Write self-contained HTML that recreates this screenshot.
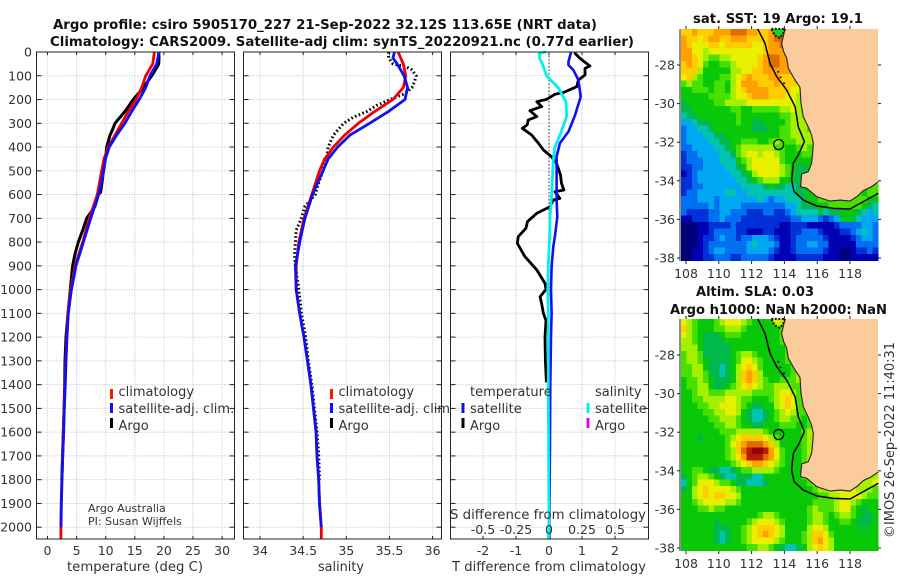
<!DOCTYPE html>
<html lang="en">
<head>
<meta charset="utf-8">
<title>Argo profile csiro 5905170_227</title>
<style>
html,body{margin:0;padding:0;background:#fff;width:900px;height:580px;overflow:hidden}
svg{display:block}
text{font-family:"DejaVu Sans","Liberation Sans",sans-serif;fill:#333}
.title{font-weight:bold;fill:#111}
</style>
</head>
<body>
<svg id="fig" xmlns="http://www.w3.org/2000/svg" width="900" height="580" viewBox="0 0 900 580">
<rect x="0" y="0" width="900" height="580" fill="#fff"/>
<text class="title" x="53" y="29" font-size="13.5" textLength="544" lengthAdjust="spacingAndGlyphs">Argo profile: csiro 5905170_227 21-Sep-2022 32.12S 113.65E (NRT data)</text>
<text class="title" x="50" y="46" font-size="13.5" textLength="584" lengthAdjust="spacingAndGlyphs">Climatology: CARS2009. Satellite-adj clim: synTS_20220921.nc (0.77d earlier)</text>
<text class="title" x="693" y="23" font-size="13.5" textLength="170" lengthAdjust="spacingAndGlyphs">sat. SST: 19 Argo: 19.1</text>
<text class="title" x="696" y="296" font-size="13.5" textLength="118" lengthAdjust="spacingAndGlyphs">Altim. SLA: 0.03</text>
<text class="title" x="670" y="314" font-size="13.5" textLength="217" lengthAdjust="spacingAndGlyphs">Argo h1000: NaN h2000: NaN</text>
<g id="temp-panel"></g>
<g id="sal-panel"></g>
<g id="diff-panel"></g>
<g id="sst-map"></g>
<g id="sla-map"></g>
<text x="135" y="571" font-size="13" text-anchor="middle" textLength="136" lengthAdjust="spacingAndGlyphs">temperature (deg C)</text>
<text x="341" y="571" font-size="13" text-anchor="middle" textLength="46" lengthAdjust="spacingAndGlyphs">salinity</text>
<text x="549" y="571" font-size="13" text-anchor="middle" textLength="194" lengthAdjust="spacingAndGlyphs">T difference from climatology</text>
<text x="548" y="519" font-size="13" text-anchor="middle" textLength="196" lengthAdjust="spacingAndGlyphs">S difference from climatology</text>
<text x="88" y="512" font-size="11">Argo Australia</text>
<text x="88" y="525" font-size="11">PI: Susan Wijffels</text>
<text transform="translate(894,538) rotate(-90)" font-size="13" textLength="196" lengthAdjust="spacingAndGlyphs">©IMOS 26-Sep-2022 11:40:31</text>
</svg>
<script>
/* ---------- profile data ---------- */
const tempDepths=[0,50,100,150,200,250,300,350,400,450,500,600,700,800,900,1000,1100,1200,1300,1400,1500,1600,1700,1800,1900,2000,2050];
const tempClim=[18.36,18.07,16.87,16.18,15.2,13.89,12.74,11.6,10.45,9.71,9.31,8.56,7.19,6.04,4.73,3.98,3.5,3.3,3.13,3.0,2.85,2.72,2.58,2.45,2.35,2.3,2.3];
const satDepths=[0,50,100,150,200,250,300,350,400,450,500,600,700,800,900,1000,1100,1200,1300,1400,1500,1600,1700,1800,1900,2000];
const tempSat=[19.16,18.76,17.6,16.87,15.78,14.46,13.3,11.88,10.62,9.94,9.65,8.79,7.42,6.16,4.9,4.1,3.58,3.35,3.18,3.06,2.89,2.78,2.61,2.49,2.38,2.32];
const argoTempDepths=[0,25,50,60,100,150,200,250,300,325,350,400,450,500,550,590,600,650,700,750,800,850,900,1000,1100,1200,1300,1400,1500,1600,1700,1800];
const tempArgo=[19.1,19.15,19.1,18.9,17.9,16.47,14.75,13.32,11.6,11.2,10.74,10.17,9.94,9.6,9.36,9.13,8.73,8.16,6.73,6.04,5.3,4.73,4.32,3.92,3.52,3.18,3.0,2.95,2.85,2.72,2.6,2.45];

const salClimDepths=[0,50,100,150,200,250,300,350,400,450,500,600,700,800,900,1000,1100,1200,1300,1400,1500,1600,1700,1800,1900,2000,2050];
const salClim=[35.6,35.66,35.69,35.66,35.54,35.33,35.14,34.98,34.85,34.75,34.69,34.6,34.51,34.45,34.42,34.42,34.46,34.51,34.55,34.59,34.62,34.65,34.66,34.68,34.69,34.71,34.71];
const salSatDepths=[0,25,50,100,150,200,250,300,350,400,450,500,600,700,800,900,1000,1100,1200,1300,1400,1500,1600,1700,1800,1900,2000];
const salSat=[35.56,35.54,35.59,35.67,35.71,35.68,35.49,35.27,35.04,34.9,34.79,34.73,34.61,34.52,34.46,34.41,34.42,34.46,34.51,34.55,34.59,34.62,34.65,34.66,34.68,34.69,34.71];
const salArgoDepths=[0,25,50,60,75,100,125,150,175,200,225,250,275,300,325,350,400,450,500,550,600,650,700,750,800,850,900,950,1000,1100,1200,1300,1400,1500,1600,1700,1800];
const salArgo=[35.49,35.49,35.54,35.68,35.76,35.81,35.79,35.76,35.68,35.51,35.35,35.24,35.08,34.97,34.91,34.85,34.79,34.77,34.73,34.68,34.64,34.52,34.48,34.42,34.41,34.4,34.41,34.43,34.45,34.48,34.53,34.56,34.6,34.63,34.66,34.68,34.69];

const diffTArgoDepths=[3,27,59,69,97,118,146,171,178,199,209,230,247,272,286,307,321,349,384,412,441,469,518,553,581,588,616,623,651,679,714,742,777,805,861,917,974,999,1030,1060,1100,1130,1200,1300,1390];
const diffTArgo=[0.77,0.94,1.24,1.09,1.09,0.89,0.84,0.43,0.18,-0.07,-0.37,-0.22,-0.58,-0.37,-0.63,-0.66,-0.81,-0.53,-0.32,-0.17,0.08,0.23,0.35,0.38,0.45,0.18,0.33,0.13,0.03,-0.37,-0.65,-0.7,-0.93,-0.96,-0.73,-0.37,-0.12,-0.09,-0.27,-0.22,-0.17,-0.09,-0.12,-0.11,-0.08];
const diffTSatDepths=[0,40,55,76,118,188,265,335,384,440,623,693,777,819,903,999,1100,1200,1400,1600,1800,2000,2050];
const diffTSat=[0.67,0.59,0.59,0.74,0.89,0.96,0.79,0.59,0.33,0.23,0.23,0.25,0.18,0.13,0.08,0.06,0.08,0.06,0.04,0.03,0.02,0.01,0.01];
const diffSSatDepths=[0,5,25,50,100,150,210,270,350,400,450,600,690,800,900,1000,1100,1400,1700,2000,2050];
const diffSSat=[-0.02,-0.073,-0.073,-0.05,-0.018,0.07,0.129,0.134,0.083,0.045,0.033,0.02,0.008,0.003,-0.005,-0.01,-0.005,-0.005,-0.003,0,-0.005];

/* ---------- axis tick labels ---------- */
const depthTicks=[0,100,200,300,400,500,600,700,800,900,1000,1100,1200,1300,1400,1500,1600,1700,1800,1900,2000];
const tempTicks=[0,5,10,15,20,25,30];
const salTicks=[34,34.5,35,35.5,36];
const diffTTicks=[-2,-1,0,1,2];
const diffSTicks=[-0.5,-0.25,0,0.25,0.5];
const lonTicks=[108,110,112,114,116,118];
const latTicks=[-28,-30,-32,-34,-36,-38];

/* ---------- map data: colour levels, north to south, west to east ---------- */
const sstRows=[
[11,11,12,11,11,11,12,12,12,13,13,13,12,12,11,11,12,13,13,13,7],
[12,11,11,10,11,12,12,11,11,12,12,12,11,11,11,11,12,13,13,12,7],
[12,11,10,10,10,11,11,10,11,11,11,11,11,10,10,11,12,12,13,12,12],
[12,12,10,10,9,10,10,10,10,10,10,10,10,10,10,11,12,12,12,12,11],
[12,12,11,10,9,8,8,9,9,10,10,10,10,10,11,12,13,13,12,12,11],
[11,12,11,10,8,7,7,8,8,9,10,10,10,10,11,12,13,13,12,12,11],
[11,11,11,9,7,7,7,7,7,9,9,10,10,11,11,12,12,12,12,12,11],
[10,11,9,8,7,7,7,8,8,9,10,11,12,11,11,11,12,12,11,11,11,10],
[8,9,8,8,7,7,8,8,7,9,10,12,12,12,11,11,11,12,11,11,11,10,9],
[7,7,8,8,8,7,8,8,7,9,10,11,12,12,12,12,11,11,11,11,10,10,8],
[7,7,7,7,7,8,8,8,8,9,10,10,11,12,12,12,11,11,11,10,10,9,8],
[6,7,7,7,7,7,8,8,9,9,9,9,10,10,10,10,10,10,10,10,10,9,8,8],
[6,6,7,7,7,7,7,7,7,8,8,7,7,8,8,8,8,8,9,9,10,9,9,8],
[5,6,6,7,7,7,7,7,7,7,8,7,7,7,7,7,7,7,8,8,9,9,9,9],
[4,4,5,6,6,7,7,7,7,7,8,7,7,6,6,7,7,7,7,8,9,9,9,9,8],
[3,4,4,5,5,6,7,7,7,7,7,7,7,6,6,6,7,7,8,8,9,9,9,8,8],
[3,4,4,4,5,5,6,6,7,7,7,7,7,7,7,7,7,7,8,8,9,9,9,9,8,7],
[3,4,4,4,4,5,5,6,6,7,7,8,8,8,7,7,8,9,8,8,8,9,9,9,8,7],
[3,3,4,4,4,4,5,5,6,7,8,9,9,9,9,9,9,8,8,7,7,8,9,8,8,7],
[2,3,3,4,4,4,4,5,5,6,8,9,10,10,9,10,10,9,8,7,7,7,8,8,7,7],
[2,3,3,3,4,4,4,5,5,5,7,8,9,10,10,10,10,10,8,7,7,7,7,7,8,7],
[2,2,3,3,4,4,4,4,5,5,6,7,9,10,10,10,10,10,9,8,7,6,6,7,8,7],
[1,2,3,4,4,4,4,4,4,5,5,6,7,9,10,10,10,10,9,8,7,6,6,7,7,8],
[2,2,3,4,4,4,4,4,4,4,5,5,6,7,8,9,9,9,7,7,6,6,6,7,7,7],
[2,2,3,3,4,4,4,4,4,4,4,5,5,5,5,6,7,6,6,5,5,6,6,7,8,8,8,8,8,8,8,8,8,8,8,8],
[2,3,3,4,4,4,4,4,5,5,4,4,5,5,5,5,5,5,5,5,5,6,6,7,7,8,8,8,8,8,8,8,8,7,8,8],
[3,3,3,4,4,4,3,4,4,4,4,4,4,4,5,4,3,4,4,5,5,5,6,7,7,8,8,8,8,8,8,8,8,8,7,7],
[3,3,3,3,3,4,3,4,4,4,4,3,3,3,3,3,3,3,3,4,4,5,6,6,6,7,7,8,8,8,8,8,8,7,6,5],
[3,2,2,2,2,3,3,4,4,3,3,3,2,2,2,3,3,2,2,3,4,5,5,5,5,6,5,6,6,7,7,7,6,5,4,5],
[1,1,2,2,2,3,3,4,3,3,3,2,2,2,2,2,2,2,2,2,3,3,4,4,4,3,2,3,4,6,7,6,5,4,4,4],
[0,0,0,1,1,2,2,2,2,3,2,2,2,2,2,2,2,2,1,1,2,2,2,1,1,1,1,1,2,3,3,3,3,4,4,3],
[0,0,0,1,1,2,3,3,3,3,2,2,1,1,1,2,2,1,1,1,2,2,3,3,3,2,1,1,1,2,2,3,4,5,4,3],
[0,0,0,1,2,2,3,4,3,3,2,3,3,4,4,4,3,2,1,1,2,3,3,3,3,3,2,1,1,1,1,2,3,4,4,3],
[0,0,0,1,2,3,3,3,3,3,3,3,4,5,4,4,4,3,1,1,2,3,3,4,4,3,3,1,1,1,1,1,3,3,3,3],
[0,0,1,1,2,3,4,4,3,3,3,3,4,4,4,4,3,2,1,1,2,3,3,3,3,3,2,1,1,0,0,1,2,2,3,2],
[0,0,1,1,2,2,3,3,3,2,2,3,3,3,3,3,2,1,1,1,1,2,2,2,2,2,1,1,1,0,0,1,1,1,1,1]
];
const slaRows=[
[10,9,8,7,7,7,8,9,10,10,10,9,8,7,7,7,7,7,7,8,8],
[11,9,8,7,7,7,8,8,9,9,9,8,7,7,7,7,7,7,8,8,8],
[10,9,8,7,6,6,6,7,8,8,8,7,7,7,7,7,7,7,8,8,8],
[9,9,8,7,6,6,6,6,7,7,7,7,7,7,7,7,7,7,8,8,8],
[9,9,9,7,6,6,6,6,6,7,7,7,7,7,7,7,7,7,7,8,8],
[8,9,9,8,6,6,6,6,6,7,8,9,9,8,7,7,7,7,7,8,8,8],
[8,9,9,8,7,6,6,6,6,7,8,10,10,9,8,7,7,7,7,8,8,9],
[8,8,9,9,7,6,6,5,6,7,9,10,11,10,8,7,7,7,7,7,8,9,9],
[8,8,9,9,8,6,6,5,6,7,9,11,12,11,9,7,7,7,7,7,8,9,9],
[7,8,8,9,8,7,6,6,6,7,9,11,12,11,9,8,7,7,8,8,8,9,9],
[7,8,8,9,9,7,6,6,7,8,9,10,11,10,9,8,8,9,9,9,8,8,9],
[7,7,8,9,9,8,8,8,9,9,9,9,9,8,8,8,8,9,10,10,9,8,9,9],
[7,7,8,8,9,9,9,9,10,10,9,8,8,7,7,7,8,9,10,11,10,8,8,9],
[7,7,7,8,8,9,9,10,10,10,9,8,7,6,6,7,7,9,10,11,10,8,8,9,9],
[7,7,7,7,8,8,9,9,10,10,9,7,6,5,5,6,7,8,9,10,9,8,8,8,9,9],
[7,7,7,7,7,8,8,9,9,9,8,7,6,5,5,6,7,8,9,9,8,8,7,8,9,9],
[7,7,7,7,7,7,8,8,9,9,8,7,7,6,6,7,7,7,8,8,8,7,7,8,9,9],
[7,7,7,7,7,7,7,8,8,8,9,9,9,9,9,8,7,7,7,7,7,7,8,9,9,9],
[7,7,7,6,7,7,7,7,8,9,10,11,11,11,11,10,9,8,7,7,7,7,8,9,9,9],
[7,7,7,7,7,7,7,7,8,10,11,12,13,13,13,12,11,9,7,7,7,7,8,9,9,9],
[7,7,7,7,7,7,7,7,8,9,11,13,14,15,15,14,12,10,8,7,7,7,8,9,9,9],
[7,7,7,7,7,7,7,7,8,9,10,12,14,14,14,13,12,10,8,7,7,7,8,9,9,9],
[7,7,7,7,7,7,7,7,7,8,9,10,11,12,12,11,10,9,8,7,7,7,8,9,9,9],
[7,7,8,8,7,6,6,5,5,6,7,8,8,9,9,9,9,8,7,7,7,7,8,9,9,9],
[6,7,8,9,9,8,7,6,5,5,6,6,6,5,5,7,7,7,7,7,7,7,8,8,9,9,9,9,9,9,9,9,9,9,9,9],
[5,7,8,10,10,10,9,8,8,7,6,6,5,5,5,6,7,7,7,7,7,7,7,8,9,9,9,9,9,9,9,9,9,9,9,10],
[6,7,9,10,11,10,10,10,10,9,8,7,7,7,7,7,7,7,7,7,7,7,7,7,8,9,9,10,10,10,10,10,9,9,9,8],
[7,7,9,10,11,10,11,11,10,10,9,7,7,7,7,7,7,7,7,7,7,7,7,7,7,8,8,9,9,10,10,10,10,9,8,8],
[7,7,8,9,10,10,10,10,9,9,8,7,7,7,7,7,7,7,7,7,7,7,7,7,8,8,8,8,9,10,10,9,8,7,7,7],
[7,7,7,8,8,9,8,8,7,7,7,7,7,7,7,7,7,7,7,7,7,7,7,8,9,8,8,8,9,10,10,8,7,6,7,7],
[7,7,7,7,7,7,7,7,7,7,7,7,7,7,8,9,9,8,7,7,7,7,7,8,9,9,8,7,8,9,9,8,7,6,6,7],
[7,7,7,7,7,7,6,7,7,7,7,7,8,9,10,10,10,9,8,7,7,7,7,8,9,9,8,7,7,8,8,7,6,6,6,7],
[7,7,7,7,7,7,6,6,6,7,7,8,9,10,11,11,11,10,9,7,7,7,7,9,10,10,9,7,7,7,7,7,7,6,7,7],
[7,7,7,7,7,7,6,5,6,7,7,8,9,10,11,12,11,10,9,7,7,7,8,9,11,11,10,8,7,7,7,7,7,7,7,7],
[7,7,7,7,7,7,6,5,6,7,7,8,9,10,10,10,10,9,8,7,7,7,8,9,11,12,10,9,7,7,7,7,7,7,7,7],
[7,7,7,7,7,7,7,7,7,7,7,7,8,8,9,9,8,7,6,5,5,6,7,9,10,11,10,9,7,7,7,7,7,7,7,7]
];
const levelColors=["#00007c","#0000b4","#0030d8","#0070f0","#00a8f4","#00c4b0","#00b84c","#08c808","#48e000","#a4f000","#e8f000","#ffcc00","#ffa000","#e06c00","#b81c00","#960000"];
const coastLon=[114.04,113.83,113.95,114.14,114.24,114.65,114.95,115.01,115.15,115.45,115.66,115.76,115.72,115.66,115.46,115.05,114.99,115.36,115.97,116.78,117.4,118.0,118.45,118.81,119.32,119.73];
const coastLat=[-26.13,-26.88,-27.3,-27.65,-28.17,-28.78,-29.16,-29.99,-30.68,-31.2,-31.63,-32.06,-32.6,-33.09,-33.53,-33.65,-34.3,-34.39,-34.82,-35.05,-35.0,-35.05,-34.8,-34.51,-34.3,-34.05];
const shelfLon=[112.37,112.82,113.12,113.53,114.14,114.65,114.85,115.22,114.85,114.54,114.44,114.59,115.15,115.97,116.98,118.0,118.81,119.73];
const shelfLat=[-26.13,-26.88,-27.91,-28.6,-29.3,-30.16,-31.2,-31.97,-32.66,-33.09,-33.96,-34.56,-35.0,-35.3,-35.43,-35.46,-35.08,-34.65];
const isletLon=[113.63,113.77,113.98];
const isletLat=[-28.35,-28.64,-28.95];
const profileLon=113.65;
const profileLat=-32.12;

/* ---------- helpers ---------- */
const NS="http://www.w3.org/2000/svg";
function mk(parent,tag,attrs){
  const el=document.createElementNS(NS,tag);
  for(const k in attrs)el.setAttribute(k,attrs[k]);
  parent.appendChild(el);
  return el;
}
const yDepth=d=>52+d*0.2376;
const PT=52,PB=539;
function label(parent,x,y,str,size,anchor){
  const t=mk(parent,'text',{x:x,y:y,'font-size':size,'text-anchor':anchor||'middle'});
  t.textContent=str;
  return t;
}
function panel(g,L,R,xTicks,xFn,showDepthLabels,showXLabels){
  const bg=mk(g,'rect',{x:L,y:PT,width:R-L,height:PB-PT,fill:'#fff'});
  
  
  xTicks.forEach((v,i)=>{
    const x=xFn(v);
    const gl=mk(g,'line',{x1:x,x2:x,y1:PT,y2:PB,stroke:i%2?'#c4d0f4':'#ead6ca','stroke-width':1,'stroke-dasharray':'1.5 1'});
    
    
    const t1=mk(g,'line',{x1:x,x2:x,y1:PT,y2:PT+3,stroke:'#222'});
    
    
    const t2=mk(g,'line',{x1:x,x2:x,y1:PB-3,y2:PB,stroke:'#222'});
    
    
    if(showXLabels){
      const lb=label(g,x,555,String(v),12.5);
      
      
    }
  });
  depthTicks.forEach(d=>{
    const y=yDepth(d);
    const gl=mk(g,'line',{x1:L,x2:R,y1:y,y2:y,stroke:'#d6d2e6','stroke-width':1,'stroke-dasharray':'1.5 1'});
    
    
    const t1=mk(g,'line',{x1:L,x2:L+5,y1:y,y2:y,stroke:'#222'});
    
    
    const t2=mk(g,'line',{x1:R-5,x2:R,y1:y,y2:y,stroke:'#222'});
    
    
    if(showDepthLabels){
      const lb=label(g,32,y+4.5,String(d),12.5,'end');
      
      
    }
  });
}
function frame(g,L,R){
  const f=mk(g,'rect',{x:L,y:PT,width:R-L,height:PB-PT,fill:'none',stroke:'#222','stroke-width':1});
  
  
}
function series(g,depths,values,xFn,color,w,dash,name){
  const pts=depths.map((d,i)=>xFn(values[i]).toFixed(1)+','+yDepth(d).toFixed(1)).join(' ');
  const p=mk(g,'polyline',{points:pts,fill:'none',stroke:color,'stroke-width':w,'stroke-linejoin':'round'});
  if(dash)p.setAttribute('stroke-dasharray',dash);
  
  
}
function legendItem(g,x,y,markY,color,text){
  if(color){
    const m=mk(g,'rect',{x:x-8.5,y:markY,width:3,height:10,fill:color});
    
    
  }
  const t=label(g,x,y,text,13,'start');
  
  
}

/* ---------- temperature panel ---------- */
const xTemp=v=>47.5+v*5.82;
const gT=document.getElementById('temp-panel');
panel(gT,36.5,234.5,tempTicks,xTemp,true,true);
series(gT,argoTempDepths,tempArgo,xTemp,'#000',3,null,'temperature-argo-line');
series(gT,tempDepths,tempClim,xTemp,'#f00000',2.8,null,'temperature-climatology-line');
series(gT,satDepths,tempSat,xTemp,'#1010f0',2.8,null,'temperature-satellite-line');
frame(gT,36.5,234.5);
legendItem(gT,118.5,396,389,'#f02000','climatology');
legendItem(gT,118.5,413,403,'#1010f0','satellite-adj. clim.');
legendItem(gT,118.5,430,418,'#000','Argo');

/* ---------- salinity panel ---------- */
const xSal=v=>260+(v-34)*86.3;
const gS=document.getElementById('sal-panel');
panel(gS,243.5,441.5,salTicks,xSal,false,true);
series(gS,salArgoDepths,salArgo,xSal,'#000',3,'1.6 2.4','salinity-argo-dotted-line');
series(gS,salClimDepths,salClim,xSal,'#f00000',2.8,null,'salinity-climatology-line');
series(gS,salSatDepths,salSat,xSal,'#1010f0',2.8,null,'salinity-satellite-line');
frame(gS,243.5,441.5);
legendItem(gS,338.5,396,389,'#f02000','climatology');
legendItem(gS,338.5,413,403,'#1010f0','satellite-adj. clim.');
legendItem(gS,338.5,430,418,'#000','Argo');

/* ---------- difference panel ---------- */
const xDiffT=v=>549+v*33;
const xDiffS=v=>549+v*132;
const gD=document.getElementById('diff-panel');
panel(gD,450.5,648.5,diffTTicks,xDiffT,false,true);
const zeroLine=mk(gD,'line',{x1:549,x2:549,y1:PT,y2:PB,stroke:'#234',"stroke-width":1,'stroke-dasharray':'1.5 2'});


series(gD,diffTArgoDepths,diffTArgo,xDiffT,'#000',2.8,null,'t-difference-argo-line');
series(gD,diffTSatDepths,diffTSat,xDiffT,'#1010f0',2.6,null,'t-difference-satellite-line');
series(gD,diffSSatDepths,diffSSat,xDiffS,'#00f0f0',2.8,null,'s-difference-satellite-line');
frame(gD,450.5,648.5);
diffSTicks.forEach(v=>{
  const t=label(gD,xDiffS(v),534,String(v),12.5);
  
  
});
legendItem(gD,470,396,389,null,'temperature');
legendItem(gD,470,413,403,'#1010f0','satellite');
legendItem(gD,470,430,418,'#000','Argo');
legendItem(gD,595,396,389,null,'salinity');
legendItem(gD,595,413,403,'#00f0f0','satellite');
legendItem(gD,595,430,418,'#f000e0','Argo');

/* ---------- maps ---------- */
function drawMap(gid,rows,top,land,topLabelY){
  const g=document.getElementById(gid);
  const lonX=lon=>686+(lon-108)*16.4;
  const latY=lat=>top+36+(-28-lat)*19.3;
  const lon0=107.7,lat0=-26.13,step=1/3;
  const frameL=mk(g,'line',{x1:680,x2:680,y1:top,y2:top+232,stroke:'#222','stroke-width':1});
  
  
  rows.forEach((row,i)=>{
    row.forEach((lev,j)=>{
      const x0=lonX(lon0+j*step),x1=lonX(lon0+(j+1)*step);
      const y0=latY(lat0-i*step),y1=latY(lat0-(i+1)*step);
      const c=mk(g,'rect',{x:x0.toFixed(2),y:y0.toFixed(2),width:(x1-x0+0.4).toFixed(2),height:(y1-y0+0.4).toFixed(2),fill:levelColors[lev],'shape-rendering':'crispEdges'});
      
      
    });
  });
  const landPts=coastLon.map((v,i)=>lonX(v).toFixed(1)+','+latY(coastLat[i]).toFixed(1));
  landPts.push('878,'+latY(-34.05).toFixed(1),'878,'+top,lonX(114.04).toFixed(1)+','+top);
  const landPoly=mk(g,'polygon',{points:landPts.join(' '),fill:'#fbcb9b'});
  
  
  const isl=mk(g,'polygon',{points:[[113.2,-26.13],[114.05,-26.13],[113.9,-26.4],[113.72,-26.6],[113.4,-26.45]].map(p=>lonX(p[0]).toFixed(1)+','+latY(p[1]).toFixed(1)).join(' '),fill:land,stroke:'#111','stroke-width':2,'stroke-dasharray':'2 1.5'});
  
  
  const coast=mk(g,'polyline',{points:coastLon.map((v,i)=>lonX(v).toFixed(1)+','+latY(coastLat[i]).toFixed(1)).join(' '),fill:'none',stroke:'#222','stroke-width':1.1});
  
  
  const shelf=mk(g,'polyline',{points:shelfLon.map((v,i)=>lonX(v).toFixed(1)+','+latY(shelfLat[i]).toFixed(1)).join(' '),fill:'none',stroke:'#000','stroke-width':1.5});
  
  
  isletLon.forEach((v,i)=>{
    const d=mk(g,'circle',{cx:lonX(v).toFixed(1),cy:latY(isletLat[i]).toFixed(1),r:1,fill:'#111'});
    
    
  });
  const marker=mk(g,'circle',{cx:lonX(profileLon).toFixed(1),cy:latY(profileLat).toFixed(1),r:5,fill:'none',stroke:'#000','stroke-width':1.2});
  
  
  lonTicks.forEach(v=>{
    const x=lonX(v);
    const t1=mk(g,'line',{x1:x,x2:x,y1:top-3,y2:top,stroke:'#222'});
    
    
    const t2=mk(g,'line',{x1:x,x2:x,y1:top+232,y2:top+235,stroke:'#222'});
    
    
    const lb=label(g,x,topLabelY,String(v),12.5);
    
    
  });
  latTicks.forEach(v=>{
    const y=latY(v);
    const t1=mk(g,'line',{x1:677,x2:680,y1:y,y2:y,stroke:'#222'});
    
    
    const t2=mk(g,'line',{x1:878,x2:881,y1:y,y2:y,stroke:'#222'});
    
    
    const lb=label(g,675,y+4.5,String(v),12.5,'end');
    
    
  });
}
drawMap('sst-map',sstRows,29,'#20d020',278);
drawMap('sla-map',slaRows,319,'#c8f000',568);
</script>
</body>
</html>
